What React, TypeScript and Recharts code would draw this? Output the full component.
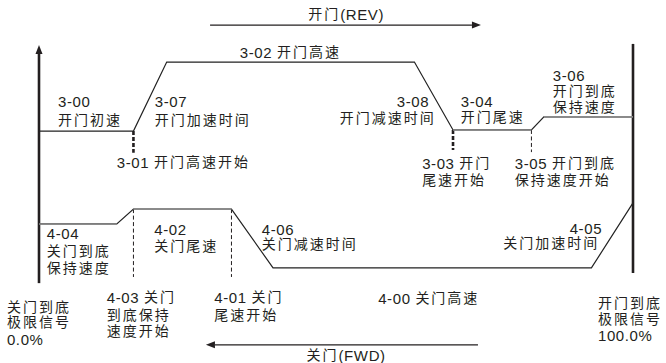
import React from 'react'
import { ComposedChart, Line, XAxis, YAxis, ReferenceLine, ReferenceDot } from 'recharts'

// position along the door travel (%), speed (relative units)
const openPos = [0, 15.9, 21.5, 63.2, 69.7, 82.9, 85.0, 100]
const openSpeed = [63.9, 63.9, 82.9, 82.9, 64.2, 64.2, 67.8, 67.8]
const closePos = [0, 13.1, 15.9, 32.4, 39.4, 93.0, 100]
const closeSpeed = [38.3, 38.3, 42.4, 42.4, 26.2, 26.2, 44.1]

// flat low-speed segments drawn in grey: [start index, end index]
const openGrey = [[4, 5], [6, 7]]
const closeGrey = [[0, 1], [2, 3]]

// switch points (dashed markers)
const markPos = [15.9, 69.7, 82.9, 15.9, 32.4]
const markTop = [63.9, 64.2, 64.2, 42.4, 42.4]
const markBottom = [57.9, 58.7, 58.1, 23.7, 23.7]
const markHeavy = [true, true, false, false, false]

// limit signals 0% / 100%
const limitPos = [0, 100]
const limitLow = [22.0, 24.8]
const limitHigh = [87.6, 87.9]

// travel direction arrows: REV (open) and FWD (close)
const dirLevel = [93.1, 5.0]
const dirFrom = [28.8, 73.9]
const dirTo = [74.4, 28.1]

// text labels: text, position, speed level, anchor
const labelText = [
  '开门(REV)', '3-02 开门高速', '3-00', '开门初速', '3-07', '开门加速时间', '3-01 开门高速开始',
  '3-08', '开门减速时间', '3-04', '开门尾速', '3-06', '开门到底', '保持速度',
  '3-03 开门', '尾速开始', '3-05 开门到底', '保持速度开始',
  '4-04', '关门到底', '保持速度', '4-02', '关门尾速', '4-06', '关门减速时间',
  '4-05', '关门加速时间', '4-00 关门高速', '关门到底', '极限信号', '0.0%',
  '4-03 关门', '到底保持', '速度开始', '4-01 关门', '尾速开始',
  '开门到底', '极限信号', '100.0%', '关门(FWD)',
]
const labelPos = [
  51.7, 33.8, 3.2, 3.2, 19.5, 19.5, 13.1,
  65.7, 66.8, 71.0, 71.0, 86.5, 86.5, 86.5,
  64.5, 64.5, 80.1, 80.1,
  1.3, 1.3, 1.3, 19.4, 19.4, 37.5, 37.5,
  94.8, 94.3, 57.1, -5.4, -5.4, -5.4,
  11.4, 11.4, 11.4, 29.5, 29.5,
  94.1, 94.1, 94.1, 51.7,
]
const labelLevel = [
  96.1, 85.7, 72.2, 66.9, 72.2, 66.9, 55.4,
  72.2, 67.5, 72.2, 67.8, 79.3, 75.0, 70.6,
  55.1, 50.3, 55.1, 50.3,
  35.9, 30.9, 26.3, 37.0, 32.2, 37.0, 32.7,
  37.2, 33.0, 17.9, 15.5, 11.3, 6.6,
  18.3, 13.3, 8.8, 18.3, 13.3,
  16.4, 12.0, 7.7, 2.2,
]
const labelAnchor = [
  'middle', 'start', 'start', 'start', 'start', 'start', 'start',
  'end', 'end', 'start', 'start', 'start', 'start', 'start',
  'start', 'start', 'start', 'start',
  'start', 'start', 'start', 'start', 'start', 'start', 'start',
  'end', 'end', 'start', 'start', 'start', 'start',
  'start', 'start', 'start', 'start', 'start',
  'start', 'start', 'start', 'middle',
]

const FONT = '"Liberation Sans", Arial, "Noto Sans CJK SC", sans-serif'
const INK = '#231f20'

const openData = openPos.map((x, i) => ({ x, y: openSpeed[i] }))
const closeData = closePos.map((x, i) => ({ x, y: closeSpeed[i] }))

// line with a filled arrow head at (x2, y2)
const arrowShape = (p: any) => {
  const { x1, y1, x2, y2 } = p
  const dx = x2 - x1
  const dy = y2 - y1
  const len = Math.sqrt(dx * dx + dy * dy) || 1
  const ux = dx / len
  const uy = dy / len
  const L = 9
  const W = 3.5
  const bx = x2 - ux * L
  const by = y2 - uy * L
  const pts = `${x2},${y2} ${bx - uy * W},${by + ux * W} ${bx + uy * W},${by - ux * W}`
  return (
    <g>
      <line x1={x1} y1={y1} x2={bx} y2={by} stroke={p.stroke} strokeWidth={p.strokeWidth} />
      <polygon points={pts} fill={p.stroke} />
    </g>
  )
}

// CJK runs get wider spacing, latin runs stay tight
const splitRuns = (s: string) => s.split(/([\u4e00-\u9fff]+)/).filter((r) => r.length > 0)

const textContent = (i: number) => (p: any) => {
  const vb = p.viewBox || {}
  const x = (vb.x || 0) + (vb.width || 0) / 2
  const y = (vb.y || 0) + (vb.height || 0) / 2
  return (
    <text
      x={x}
      y={y}
      textAnchor={labelAnchor[i] as any}
      dominantBaseline="central"
      fontFamily={FONT}
      fill={INK}
    >
      {splitRuns(labelText[i]).map((r, k) => {
        const cjk = /[\u4e00-\u9fff]/.test(r)
        return (
          <tspan key={k} fontSize={cjk ? 14 : 15} letterSpacing={cjk ? 2 : 0.6}>
            {r}
          </tspan>
        )
      })}
    </text>
  )
}

export default function App() {
  return (
    <div style={{ position: 'absolute', left: 0, top: 0, background: '#fff' }}>
      <ComposedChart width={666} height={363} margin={{ top: 0, right: 33, bottom: 0, left: 39 }}>
        <XAxis type="number" dataKey="x" domain={[0, 100]} hide />
        <YAxis type="number" domain={[0, 100]} hide />

        {limitPos.map((x, i) => (
          <ReferenceLine
            key={'lim' + i}
            segment={[{ x, y: limitLow[i] }, { x, y: limitHigh[i] }]}
            stroke={INK}
            strokeWidth={2.6}
            ifOverflow="visible"
            shape={i === 0 ? arrowShape : undefined}
          />
        ))}

        {dirLevel.map((y, i) => (
          <ReferenceLine
            key={'dir' + i}
            segment={[{ x: dirFrom[i], y }, { x: dirTo[i], y }]}
            stroke={INK}
            strokeWidth={1.3}
            ifOverflow="visible"
            shape={arrowShape}
          />
        ))}

        {markPos.map((x, i) => (
          <ReferenceLine
            key={'mk' + i}
            segment={[{ x, y: markTop[i] }, { x, y: markBottom[i] }]}
            stroke={INK}
            strokeWidth={markHeavy[i] ? 2.6 : 1}
            strokeDasharray={markHeavy[i] ? '4 2' : '4 2.5'}
            ifOverflow="visible"
          />
        ))}

        <Line data={openData} dataKey="y" type="linear" stroke="#222" strokeWidth={1.2} dot={false} activeDot={false} isAnimationActive={false} />
        <Line data={closeData} dataKey="y" type="linear" stroke="#222" strokeWidth={1.2} dot={false} activeDot={false} isAnimationActive={false} />
        {openGrey.map(([a, b], i) => (
          <Line key={'og' + i} data={openData.slice(a, b + 1)} dataKey="y" type="linear" stroke="#8a8a8a" strokeWidth={1.6} dot={false} activeDot={false} isAnimationActive={false} />
        ))}
        {closeGrey.map(([a, b], i) => (
          <Line key={'cg' + i} data={closeData.slice(a, b + 1)} dataKey="y" type="linear" stroke="#8a8a8a" strokeWidth={1.6} dot={false} activeDot={false} isAnimationActive={false} />
        ))}

        {labelText.map((t, i) => (
          <ReferenceDot
            key={'lb' + i}
            x={labelPos[i]}
            y={labelLevel[i]}
            r={0}
            fill="none"
            stroke="none"
            ifOverflow="visible"
            label={{ content: textContent(i) }}
          />
        ))}
      </ComposedChart>
    </div>
  )
}
